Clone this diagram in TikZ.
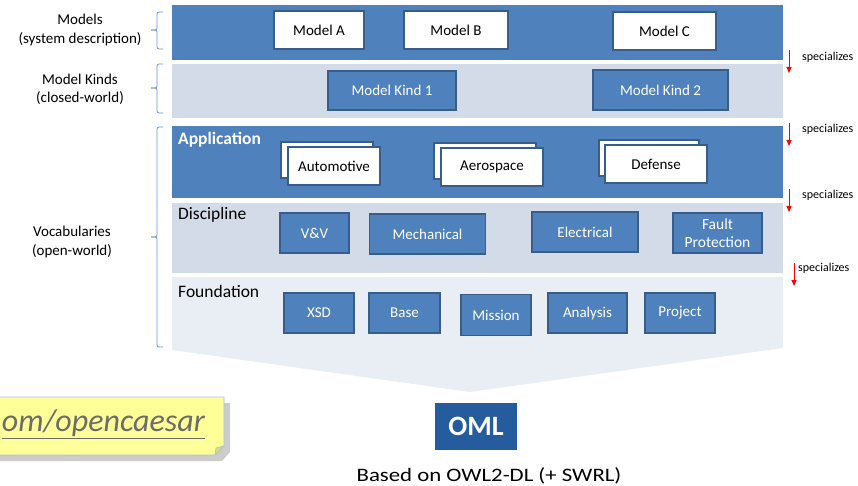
\documentclass[tikz,border=0pt]{standalone}
\usepackage{fontspec}
\setmainfont{Carlito}
\usetikzlibrary{arrows.meta}
\definecolor{dblue}{HTML}{4F81BD}
\definecolor{bdr}{HTML}{385D8A}
\definecolor{band}{HTML}{D3DAE8}
\definecolor{fband}{HTML}{E9EDF4}
\definecolor{omlblue}{HTML}{255C9E}
\definecolor{note}{HTML}{FFFF99}
\definecolor{brk}{HTML}{6D93C8}
\tikzset{
  fs/.style={font=\fontsize{#1}{#1}\selectfont},
  wbox/.style={draw=bdr, line width=1.2pt, fill=white, text=black, fs=15, inner sep=0pt},
  bbox/.style={draw=bdr, line width=1.2pt, fill=dblue, text=white, fs=15, inner sep=0pt, align=center},
  bandlbl/.style={anchor=west, fs=17.5, inner sep=0pt},
  sidelbl/.style={align=center, fs=15, inner sep=0pt},
  brack/.style={draw=brk, line width=0.8pt, rounded corners=2pt},
  spec/.style={draw=red, line width=1pt, -{Triangle[length=6pt,width=5pt]}},
  speclbl/.style={anchor=west, fs=12, inner sep=0pt}
}
\begin{document}
\begin{tikzpicture}[x=1pt,y=-1pt]
\useasboundingbox (0,0) rectangle (858,486);
% bands
\fill[dblue] (172,5) rectangle (783,60);
\fill[band] (172,64) rectangle (783,118);
\fill[dblue] (172,126) rectangle (783,198);
\fill[band] (172,203) rectangle (783,273);
\fill[fband] (172,277) -- (783,277) -- (783,348) -- (470,392) -- (172,350) -- cycle;
% band labels
\node[bandlbl, text=white, font=\bfseries\fontsize{17.5}{17.5}\selectfont] (lapp) at (178,140) {Application};
\node[bandlbl] (ldis) at (178,215) {Discipline};
\node[bandlbl] (lfou) at (178,291) {Foundation};
% models
\node[wbox, minimum width=90pt, minimum height=38pt] (ma) at (319,30) {Model A};
\node[wbox, minimum width=104pt, minimum height=38pt] (mb) at (456,30) {Model B};
\node[wbox, minimum width=103pt, minimum height=38pt] (mc) at (664.5,31) {Model C};
% model kinds
\node[bbox, minimum width=128pt, minimum height=39pt] (mk1) at (392,90.5) {Model Kind 1};
\node[bbox, minimum width=135pt, minimum height=40pt] (mk2) at (660.5,90) {Model Kind 2};
% application
\node[wbox, minimum width=92pt, minimum height=36pt] (au0) at (327,160) {};
\node[wbox, minimum width=92pt, minimum height=38pt] (au) at (334,166) {Automotive};
\node[wbox, minimum width=102pt, minimum height=36pt] (ae0) at (485,161) {};
\node[wbox, minimum width=102pt, minimum height=38pt] (ae) at (492,167) {Aerospace};
\node[wbox, minimum width=100pt, minimum height=36pt] (de0) at (649,158) {};
\node[wbox, minimum width=102pt, minimum height=38pt] (de) at (656,164) {Defense};
% discipline
\node[bbox, minimum width=69pt, minimum height=40pt] (vv) at (314.5,233) {V\&V};
\node[bbox, minimum width=116pt, minimum height=40pt] (mech) at (427.5,234) {Mechanical};
\node[bbox, minimum width=106pt, minimum height=40pt] (elec) at (585,232) {Electrical};
\node[bbox, minimum width=89pt, minimum height=40pt, font=\fontsize{15.5}{18}\selectfont] (fp) at (717.5,233) {Fault\\Protection};
% foundation
\node[bbox, minimum width=70pt, minimum height=40pt] (xsd) at (319,313) {XSD};
\node[bbox, minimum width=71pt, minimum height=40pt] (base) at (404.5,313) {Base};
\node[bbox, minimum width=70pt, minimum height=41pt] (mis) at (496,315) {Mission};
\node[bbox, minimum width=79pt, minimum height=40pt] (ana) at (587.5,313) {Analysis};
\node[bbox, minimum width=70pt, minimum height=40pt] (proj) at (680,313) {Project};
% side labels
\node[sidelbl, font=\fontsize{15}{19}\selectfont] (lm) at (80,30) {Models\\(system description)};
\node[sidelbl, font=\fontsize{15}{18}\selectfont] (lmk) at (80,89) {Model Kinds\\(closed-world)};
\node[sidelbl, font=\fontsize{15}{18}\selectfont] (lv) at (72,242) {Vocabularies\\(open-world)};
% brackets
\draw[brack] (163,12) -- (157,12) -- (157,30) -- (151,30);
\draw[brack] (151,30) -- (157,30) -- (157,49) -- (163,49);
\draw[brack] (163,64) -- (157,64) -- (157,88) -- (151,88);
\draw[brack] (151,88) -- (157,88) -- (157,113) -- (163,113);
\draw[brack] (163,127) -- (157,127) -- (157,237) -- (151,237);
\draw[brack] (151,237) -- (157,237) -- (157,347) -- (163,347);
% specializes
\coordinate (s1a) at (789,50); \coordinate (s1b) at (789,73);
\coordinate (s2a) at (789,123); \coordinate (s2b) at (789,146);
\coordinate (s3a) at (789,189); \coordinate (s3b) at (789,212);
\coordinate (s4a) at (794,263); \coordinate (s4b) at (794,286);
\draw[spec] (s1a) -- (s1b);
\draw[spec] (s2a) -- (s2b);
\draw[spec] (s3a) -- (s3b);
\draw[spec] (s4a) -- (s4b);
\node[speclbl] (t1) at (802,57) {specializes};
\node[speclbl] (t2) at (802,129) {specializes};
\node[speclbl] (t3) at (802,195) {specializes};
\node[speclbl] (t4) at (798,268) {specializes};
% OML
\node[fill=omlblue, text=white, minimum width=82pt, minimum height=47pt, inner sep=0pt, font=\bfseries\fontsize{28}{28}\selectfont] (oml) at (476,426.5) {OML};
\node[fs=19, inner sep=0pt] (owl) at (489,476) {\scalebox{1.2}[1]{Based on OWL2-DL (+ SWRL)}};
% note
\fill[gray!40] (-20,403) -- (230,403) -- (230,452) -- (222,461) -- (-20,461) -- cycle;
\filldraw[fill=note, draw=brk!60, line width=0.8pt] (-20,397) -- (224,397) -- (224,446) -- (215,455) -- (-20,455) -- cycle;
\filldraw[fill=note!70!gray, draw=brk!60, line width=0.6pt] (224,446) -- (216,448) -- (215,455) -- cycle;
\node[anchor=east, inner sep=0pt, text=gray!85!black, font=\itshape\fontsize{32}{32}\selectfont] (url) at (205,424) {\underline{om/opencaesar}};
\end{tikzpicture}
\end{document}
